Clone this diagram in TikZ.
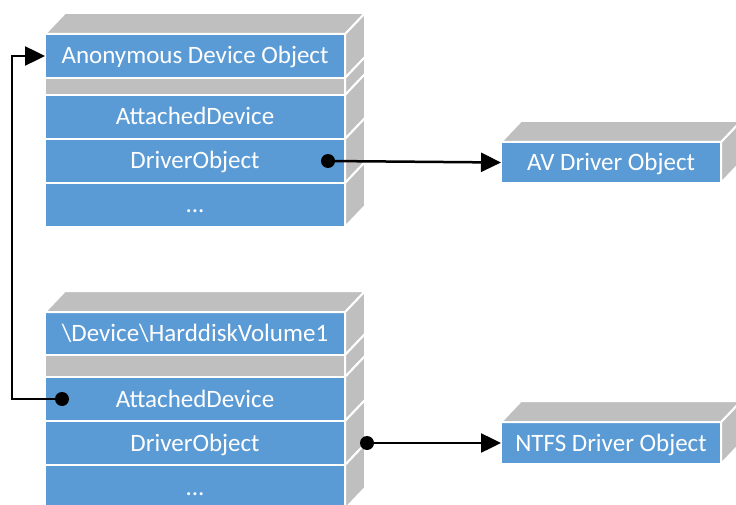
\documentclass[tikz,border=0pt]{standalone}
\usepackage{fontspec}
\setmainfont{Carlito}
\usetikzlibrary{positioning,arrows.meta}
\definecolor{fieldblue}{HTML}{5B9BD5}
\definecolor{sidegray}{HTML}{BFBFBF}
\tikzset{
  field/.style={rectangle, fill=fieldblue, draw=white, line width=2pt, outer sep=0pt, inner sep=0pt,
    minimum width=300pt, minimum height=44pt, text height=16pt, text depth=0pt,
    text=white, font=\fontsize{25}{29}\selectfont},
  spacer/.style={field, fill=sidegray},
  face/.style={fill=sidegray, draw=white, line width=2pt, line join=round},
  pin/.style={circle, fill=black, inner sep=0pt, minimum size=14pt},
  link/.style={line width=2.5pt, -{Triangle[length=20pt,width=19pt]}},
}
\begin{document}
\begin{tikzpicture}[x=1pt,y=-1pt]
\useasboundingbox (0,0) rectangle (736,505);
\def\block#1{
\draw[face] (#1.north east) -- ([shift={(20,-21)}]#1.north east) -- ([shift={(20,-21)}]#1.south east) -- (#1.south east) -- cycle;
}
\def\lid#1{
\draw[face] (#1.north west) -- ([shift={(20,-21)}]#1.north west) -- ([shift={(20,-21)}]#1.north east) -- (#1.north east) -- cycle;
}
\node[field] (anon) at (195,56) {Anonymous Device Object};
\node[spacer, minimum height=17pt, below=0pt of anon] (gap1) {};
\node[field, below=0pt of gap1] (att1) {AttachedDevice};
\node[field, below=0pt of att1] (drv1) {DriverObject};
\node[field, below=0pt of drv1] (more1) {...};

\node[field, minimum height=43pt] (dev) at (195,333.5) {\textbackslash Device\textbackslash HarddiskVolume1};
\node[spacer, minimum height=22pt, below=0pt of dev] (gap2) {};
\node[field, below=0pt of gap2] (att2) {AttachedDevice};
\node[field, below=0pt of att2] (drv2) {DriverObject};
\node[field, below=0pt of drv2] (more2) {...};

\node[field, minimum width=220pt, minimum height=41pt] (avdrv) at (611,162.5) {AV Driver Object};
\node[field, minimum width=220pt, minimum height=42pt] (ntfs) at (611,443) {NTFS Driver Object};

\foreach \n in {anon,gap1,att1,drv1,more1,dev,gap2,att2,drv2,more2,avdrv,ntfs} {\block{\n}}
\foreach \n in {anon,dev,avdrv,ntfs} {\lid{\n}}

\node[pin] (p1) at ([xshift=-17pt]drv1.east) {};
\node[pin] (p2) at ([xshift=17pt]att2.west) {};
\node[pin] (p3) at ([xshift=22pt]drv2.east) {};
\coordinate (loop) at (12,0);

\draw[link] (p1.center) -- (avdrv.west);
\draw[link] (p3.center) -- (ntfs.west);
\draw[link] (p2.center) -- (p2 -| loop) |- (anon.west);
\end{tikzpicture}
\end{document}
